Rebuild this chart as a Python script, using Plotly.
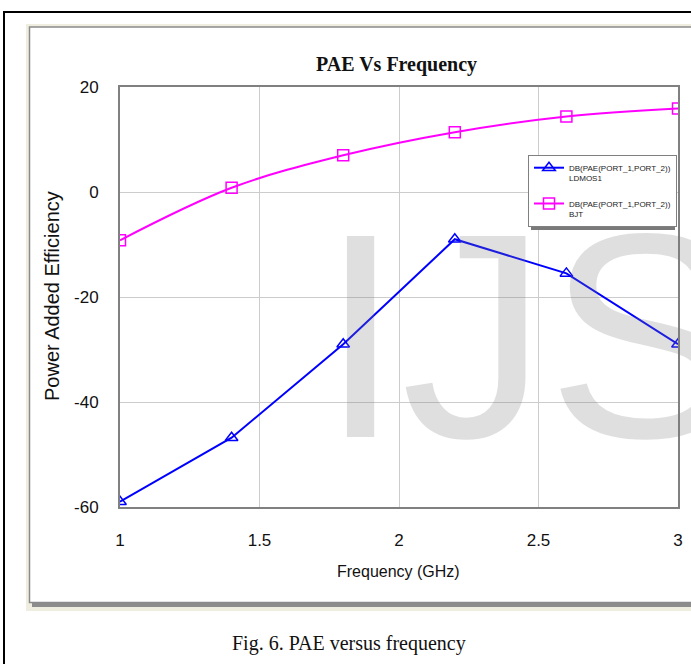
import plotly.graph_objects as go

# ---- data ----
freq = [1.0, 1.4, 1.8, 2.2, 2.6, 3.0]
pae_ldmos = [-59.0, -46.8, -29.0, -9.0, -15.5, -29.0]
pae_bjt = [-9.2, 0.8, 7.0, 11.4, 14.4, 15.9]
x_ticks = [1, 1.5, 2, 2.5, 3]
x_tick_labels = ["1", "1.5", "2", "2.5", "3"]
y_ticks = [-60, -40, -20, 0, 20]
y_tick_labels = ["-60", "-40", "-20", "0", "20"]
name_ldmos = "DB(PAE(PORT_1,PORT_2))<br>LDMOS1"
name_bjt = "DB(PAE(PORT_1,PORT_2))<br>BJT"

W, H = 691, 664
L, R, T, B = 120, 678, 87, 507  # plot area in pixels


def px(x):
    return (x - L) / (R - L)


def py(y):
    return (B - y) / (B - T)


SANS = "Liberation Sans, Arial, sans-serif"
SERIF = "Liberation Serif, Times New Roman, serif"

fig = go.Figure()
fig.add_trace(go.Scatter(
    x=freq, y=pae_ldmos, name=name_ldmos, mode="lines+markers", legendgroup="a",
    line=dict(color="#0000ff", width=2),
    marker=dict(symbol="triangle-up-open", size=11, color="#0000ff", line=dict(width=1.5)),
))
fig.add_trace(go.Scatter(
    x=freq, y=pae_bjt, name=name_bjt, mode="lines+markers", legendgroup="b",
    line=dict(color="#ff00ff", width=2, shape="spline"),
    marker=dict(symbol="square-open", size=11, color="#ff00ff", line=dict(width=1.5)),
))

shapes = [
    # outer black frame
    dict(type="rect", xref="paper", yref="paper", x0=px(4), x1=px(720), y0=py(700), y1=py(12),
         line=dict(color="black", width=2), fillcolor="rgba(0,0,0,0)", layer="below"),
    # beige panel
    dict(type="rect", xref="paper", yref="paper", x0=px(26), x1=px(720), y0=py(611), y1=py(24),
         line=dict(width=0), fillcolor="#efece0", layer="below"),
    # shadow
    dict(type="rect", xref="paper", yref="paper", x0=px(32), x1=px(720), y0=py(607), y1=py(30),
         line=dict(width=0), fillcolor="#8c8c8c", layer="below"),
    # white inner panel
    dict(type="rect", xref="paper", yref="paper", x0=px(29.5), x1=px(720), y0=py(602.5), y1=py(27),
         line=dict(color="#8a8a8a", width=1.5), fillcolor="white", layer="below"),
    # legend shadow
    dict(type="rect", xref="paper", yref="paper", x0=px(531), x1=px(675), y0=py(230), y1=py(158),
         line=dict(width=0), fillcolor="#7a7a7a", layer="above"),
]

annotations = [
    dict(text="IJS", xref="paper", yref="paper", x=px(318), y=py(171), xanchor="left", yanchor="top",
         showarrow=False, font=dict(family=SANS, size=292, color="rgba(120,120,120,0.24)")),
    dict(text="<b>PAE Vs Frequency</b>", xref="paper", yref="paper", x=px(396), y=py(65),
         xanchor="center", yanchor="middle", showarrow=False,
         font=dict(family=SERIF, size=20, color="#111")),
    dict(text="Power Added Efficiency", xref="paper", yref="paper", x=px(52), y=py(296),
         xanchor="center", yanchor="middle", textangle=-90, showarrow=False,
         font=dict(family=SANS, size=20, color="#111")),
    dict(text="Frequency (GHz)", xref="paper", yref="paper", x=px(398), y=py(571),
         xanchor="center", yanchor="middle", showarrow=False,
         font=dict(family=SANS, size=16, color="#111")),
    dict(text="Fig. 6. PAE versus frequency", xref="paper", yref="paper", x=px(349), y=py(643),
         xanchor="center", yanchor="middle", showarrow=False,
         font=dict(family=SERIF, size=20, color="#111")),
]

fig.update_layout(
    width=W, height=H,
    margin=dict(l=L, r=W - R, t=T, b=H - B, pad=0, autoexpand=False),
    paper_bgcolor="white", plot_bgcolor="white",
    shapes=shapes, annotations=annotations,
    showlegend=True,
    legend=dict(x=px(528), y=py(155), xanchor="left", yanchor="top",
                bgcolor="white", bordercolor="#808080", borderwidth=1,
                font=dict(family=SANS, size=8, color="#222"),
                valign="top", itemwidth=30, traceorder="grouped", tracegroupgap=12),
    xaxis=dict(range=[1, 3], tickvals=x_ticks, ticktext=x_tick_labels,
               showgrid=True, gridcolor="#cccccc", gridwidth=1,
               showline=True, mirror=True, linecolor="#808080", linewidth=2,
               zeroline=False, ticks="", ticklabelstandoff=17,
               tickfont=dict(family=SANS, size=17, color="#111")),
    yaxis=dict(range=[-60, 20], tickvals=y_ticks, ticktext=y_tick_labels,
               showgrid=True, gridcolor="#cccccc", gridwidth=1,
               showline=True, mirror=True, linecolor="#808080", linewidth=2,
               zeroline=False, ticks="", ticklabelstandoff=16,
               tickfont=dict(family=SANS, size=17, color="#111")),
)

fig.write_html(
    "out.html",
    config={"displayModeBar": False},
    post_script="document.body.style.margin='0';document.body.style.overflow='hidden';",
)
